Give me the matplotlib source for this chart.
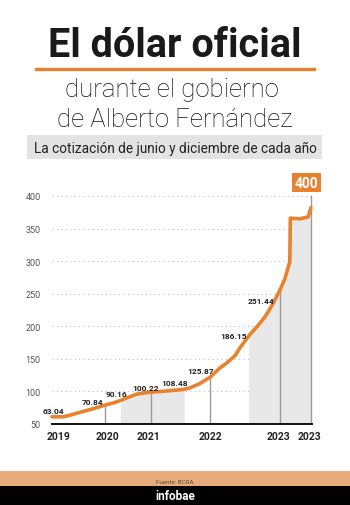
import matplotlib
matplotlib.use("Agg")
import matplotlib.pyplot as plt
import numpy as np

# ---------------- data ----------------
# months since Dec-2019 (start of the government) and official dollar rate
months = [0, 2.0, 3.3, 5.2, 7.4, 9.8, 11.6, 12.9, 14.4, 15.7, 17.2, 18.5, 20.9,
          24.2, 25.5, 27.3, 29.2, 31.0, 32.3, 33.8, 34.7, 36.6, 37.8, 39.0, 39.9,
          41.0, 42.1, 43.0, 43.9, 44.0, 45.8, 47.3, 47.8]
values = [61, 61, 63.5, 68, 73, 79, 83, 87, 92, 96, 98, 99, 100.5,
          103, 105.5, 112, 122, 136, 144, 155, 167, 188, 199, 211, 222,
          238, 256, 273, 299, 366, 365, 368, 382]

label_values = ["63.04", "70.84", "90.16", "100.22", "108.48", "125.87", "186.15", "251.44"]
label_x = [0.2, 7.4, 11.9, 17.2, 22.7, 27.5, 33.6, 38.6]
label_y = [70, 85, 97, 106, 113, 132, 186, 240]

marker_months = [9.8, 18.3, 29.2, 42.1, 47.8]
shade_ranges = [(12.6, 24.4), (36.3, 47.8)]

year_ticks = [1.3, 10.2, 17.8, 29.3, 41.9, 47.6]
year_labels = ["2019", "2020", "2021", "2022", "2023", "2023"]
y_ticks = [50, 100, 150, 200, 250, 300, 350, 400]

last_value = 400

title = "El dólar oficial"
subtitle1 = "durante el gobierno"
subtitle2 = "de Alberto Fernández"
boxtext = "La cotización de junio y diciembre de cada año"
source = "Fuente: BCRA"
brand = "infobae"

ORANGE = "#E8822E"

# ---------------- figure ----------------
W, H = 350, 506
fig = plt.figure(figsize=(W / 100, H / 100), dpi=100)
fig.patch.set_facecolor("white")
plt.rcParams["font.family"] = ["Roboto", "DejaVu Sans"]


def fx(x):
    return x / W


def fy(y):
    return 1 - y / H


# header
fig.text(fx(175), fy(57), title, ha="center", va="baseline", fontsize=28.5,
         fontweight="bold", color="#1a1a1a")
fig.add_artist(plt.Line2D([fx(36), fx(314)], [fy(70), fy(70)], color=ORANGE, lw=2.4))
fig.text(fx(172), fy(97), subtitle1, ha="center", va="baseline", fontsize=18.5,
         fontweight="light", color="#111111")
fig.text(fx(175), fy(127), subtitle2, ha="center", va="baseline", fontsize=18.5,
         fontweight="light", color="#111111")
fig.add_artist(plt.Rectangle((fx(27), fy(160)), fx(295), 24 / H, color="#e3e3e3", lw=0))
fig.text(fx(175), fy(153), boxtext, ha="center", va="baseline", fontsize=9.8,
         color="#222222")

# footer
fig.add_artist(plt.Rectangle((0, fy(487)), 1, 15 / H, color="#E8AC7B", lw=0))
fig.add_artist(plt.Rectangle((0, 0), 1, 19 / H, color="#000000", lw=0))
fig.text(fx(175), fy(482), source, ha="center", va="center", fontsize=4.5, color="#5a4a3a")
fig.text(fx(175), fy(497), brand, ha="center", va="center", fontsize=8.5,
         fontweight="bold", color="white")

# ---------------- chart ----------------
y0, y1 = 50, 420
px_per_unit = (425 - 197) / 350.0
top_px = 425 - (y1 - y0) * px_per_unit
ax = fig.add_axes([fx(52), fy(425), 260 / W, (425 - top_px) / H])
ax.set_xlim(0, 48)
ax.set_ylim(y0, y1)
ax.set_facecolor("none")

m = np.array(months)
v = np.array(values)

for a, b in shade_ranges:
    xs = np.linspace(a, b, 200)
    ys = np.interp(xs, m, v)
    ax.fill_between(xs, y0, ys, color="#e8e8e8", lw=0, zorder=1)

for xm in marker_months:
    top = np.interp(xm, m, v)
    if xm == marker_months[-1]:
        top = last_value
    ax.plot([xm, xm], [y0, top], color="#9a9a9a", lw=1.0, zorder=2, clip_on=False)

ax.plot(m, v, color=ORANGE, lw=2.6, zorder=3, solid_capstyle="round", clip_on=False)

for t, lx, ly in zip(label_values, label_x, label_y):
    ax.text(lx, ly, t, ha="center", va="center", fontsize=6, fontweight="bold",
            color="#222222", zorder=4)

ax.text(marker_months[-1] - 0.8, 420.5, str(last_value), ha="center", va="center",
        fontsize=10, fontweight="bold", color="white", zorder=5,
        bbox=dict(boxstyle="square,pad=0.18", fc=ORANGE, ec="none"), clip_on=False)

ax.set_yticks(y_ticks)
ax.set_yticklabels([str(t) for t in y_ticks])
ax.set_xticks(year_ticks)
ax.set_xticklabels(year_labels)
ax.tick_params(axis="y", length=0, pad=8, labelsize=6.5, labelcolor="#555555")
ax.tick_params(axis="x", length=0, pad=5, labelsize=7.5, labelcolor="#222222")
for lab in ax.get_xticklabels():
    lab.set_fontweight("bold")

for yt in y_ticks[1:]:
    ax.axhline(yt, color="#bdbdbd", lw=0.8, dashes=(1, 3), zorder=0)

for s in ["top", "right", "left"]:
    ax.spines[s].set_visible(False)
ax.spines["bottom"].set_color("#111111")
ax.spines["bottom"].set_linewidth(1.4)
ax.spines["bottom"].set_zorder(6)

fig.savefig("out.png", dpi=100, facecolor="white")
